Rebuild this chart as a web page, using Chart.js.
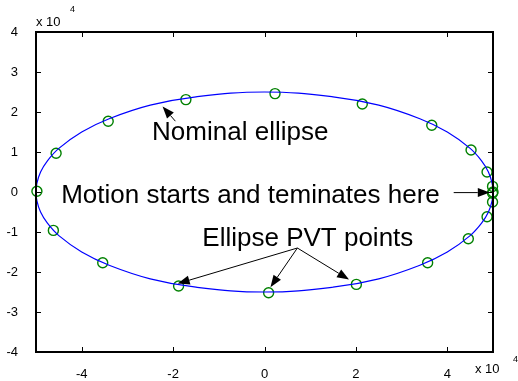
<!DOCTYPE html>
<html>
<head>
<meta charset="utf-8">
<script src="https://cdn.jsdelivr.net/npm/chart.js@4.4.1/dist/chart.umd.min.js"></script>
<style>
  html, body { margin: 0; padding: 0; background: #fff; }
  #wrap { width: 518px; height: 381px; position: relative; }
</style>
</head>
<body>
<div id="wrap"><canvas id="c" width="518" height="381"></canvas></div>
<script>
// ---- data (units of 1e4) ----
const ellipseX = [5, 4.98, 4.9, 4.75, 4.5, 4.0, 3.4, 2.5, 1.5, 0, -1.5, -2.5, -3.4, -4.0, -4.5, -4.75, -4.9, -4.98, -5,
                  -4.98, -4.9, -4.75, -4.5, -4.0, -3.4, -2.5, -1.5, 0, 1.5, 2.5, 3.4, 4.0, 4.5, 4.75, 4.9, 4.98, 5];
const ellipseY = [0, 0.22, 0.5, 0.78, 1.09, 1.5, 1.83, 2.17, 2.38, 2.5, 2.38, 2.17, 1.83, 1.5, 1.09, 0.78, 0.5, 0.22, 0,
                  -0.22, -0.5, -0.78, -1.09, -1.5, -1.83, -2.17, -2.38, -2.5, -2.38, -2.17, -1.83, -1.5, -1.09, -0.78, -0.5, -0.22, 0];
const pvtX = [5.0, 4.99, 4.87, 4.52, 3.66, 2.14, 0.23, -1.72, -3.42, -4.56, -4.98, -4.62, -3.54, -1.88, 0.09, 2.01, 3.57, 4.46, 4.87, 4.99, 4.99];
const pvtY = [0.0, 0.14, 0.50, 1.05, 1.67, 2.20, 2.46, 2.31, 1.77, 0.97, 0.02, -0.96, -1.77, -2.35, -2.52, -2.31, -1.77, -1.17, -0.62, -0.25, -0.03];
const xTickValues = [-4, -2, 0, 2, 4];
const yTickValues = [-4, -3, -2, -1, 0, 1, 2, 3, 4];
const SCALE = 10000;

// annotations (data units of 1e4)
const labelTexts = ["Nominal ellipse", "Motion starts and teminates here", "Ellipse PVT points"];
const labelX = [-2.46, -4.45, -1.36];
const labelY = [1.31, -0.27, -1.36];
// arrows: [tailX, tailY, tipX, tipY]
const arrowTailX = [-1.95, 4.14, 0.72, 0.72, 0.72];
const arrowTailY = [1.77, -0.015, -1.40, -1.40, -1.40];
const arrowTipX  = [-2.23, 4.93, -1.90, 0.13, 1.85];
const arrowTipY  = [2.14, -0.015, -2.29, -2.38, -2.19];

const FONT = "'Liberation Sans', Arial, Helvetica, sans-serif";

const ellipseData = ellipseX.map((x, i) => ({ x: x * SCALE, y: ellipseY[i] * SCALE }));
const pvtData = pvtX.map((x, i) => ({ x: x * SCALE, y: pvtY[i] * SCALE }));

const overlay = {
  id: 'overlay',
  afterDatasetsDraw(chart) {
    const ctx = chart.ctx;
    const xs = chart.scales.x, ys = chart.scales.y;
    const a = chart.chartArea;
    ctx.save();
    // box
    ctx.strokeStyle = '#000';
    ctx.lineWidth = 2;
    const L0 = Math.round(a.left), R0 = Math.round(a.right), T0 = Math.round(a.top), B0 = Math.round(a.bottom);
    ctx.strokeRect(L0, T0, R0 - L0, B0 - T0);
    // inward ticks
    ctx.lineWidth = 1;
    const tl = 5;
    ctx.beginPath();
    xTickValues.forEach(v => {
      const px = Math.round(xs.getPixelForValue(v * SCALE)) + 0.5;
      ctx.moveTo(px, B0); ctx.lineTo(px, B0 - tl);
      ctx.moveTo(px, T0); ctx.lineTo(px, T0 + tl);
    });
    yTickValues.forEach(v => {
      const py = Math.round(ys.getPixelForValue(v * SCALE)) + 0.5;
      ctx.moveTo(L0, py); ctx.lineTo(L0 + tl, py);
      ctx.moveTo(R0, py); ctx.lineTo(R0 - tl, py);
    });
    ctx.stroke();

    // exponent labels
    ctx.fillStyle = '#000';
    ctx.textBaseline = 'alphabetic';
    ctx.textAlign = 'left';
    ctx.font = '13px ' + FONT;
    ctx.fillText('x 10', a.left, a.top - 6);
    ctx.font = '9px ' + FONT;
    ctx.fillText('4', a.left + 34, a.top - 20);
    ctx.font = '13px ' + FONT;
    ctx.fillText('x 10', 475, 373);
    ctx.font = '9px ' + FONT;
    ctx.fillText('4', 513, 362);

    // annotation texts
    ctx.font = '26px ' + FONT;
    labelTexts.forEach((t, i) => {
      ctx.fillText(t, xs.getPixelForValue(labelX[i] * SCALE), ys.getPixelForValue(labelY[i] * SCALE));
    });

    // arrows
    ctx.strokeStyle = '#000';
    ctx.lineWidth = 1;
    for (let i = 0; i < arrowTailX.length; i++) {
      const x0 = xs.getPixelForValue(arrowTailX[i] * SCALE), y0 = ys.getPixelForValue(arrowTailY[i] * SCALE);
      const x1 = xs.getPixelForValue(arrowTipX[i] * SCALE), y1 = ys.getPixelForValue(arrowTipY[i] * SCALE);
      const ang = Math.atan2(y1 - y0, x1 - x0);
      const L = 12, W = 4.5;
      const bx = x1 - L * Math.cos(ang), by = y1 - L * Math.sin(ang);
      ctx.beginPath();
      ctx.moveTo(x0, y0); ctx.lineTo(bx, by);
      ctx.stroke();
      ctx.beginPath();
      ctx.moveTo(x1, y1);
      ctx.lineTo(bx + W * Math.sin(ang), by - W * Math.cos(ang));
      ctx.lineTo(bx - W * Math.sin(ang), by + W * Math.cos(ang));
      ctx.closePath();
      ctx.fill();
    }
    ctx.restore();
  }
};

new Chart(document.getElementById('c'), {
  type: 'scatter',
  data: {
    datasets: [
      {
        label: 'Nominal ellipse',
        data: ellipseData,
        showLine: true,
        borderColor: '#0000ff',
        borderWidth: 1.2,
        pointRadius: 0,
        tension: 0.4,
        fill: false
      },
      {
        label: 'Ellipse PVT points',
        data: pvtData,
        showLine: false,
        pointStyle: 'circle',
        pointRadius: 5,
        borderColor: '#008000',
        backgroundColor: 'rgba(0,0,0,0)',
        borderWidth: 1.4
      }
    ]
  },
  options: {
    responsive: false,
    animation: false,
    events: [],
    clip: false,
    layout: { padding: { left: 0, right: 25, top: 32, bottom: 0 } },
    plugins: { legend: { display: false }, tooltip: { enabled: false } },
    scales: {
      x: {
        type: 'linear',
        min: -5 * SCALE, max: 5 * SCALE,
        afterBuildTicks: s => { s.ticks = xTickValues.map(v => ({ value: v * SCALE })); },
        afterFit: s => { s.height = 29; },
        grid: { display: false },
        border: { display: false },
        ticks: {
          color: '#000', padding: 7,
          font: { family: FONT, size: 13 },
          callback: v => String(Math.round(v / SCALE)),
          maxRotation: 0, autoSkip: false
        }
      },
      y: {
        type: 'linear',
        min: -4 * SCALE, max: 4 * SCALE,
        afterBuildTicks: s => { s.ticks = yTickValues.map(v => ({ value: v * SCALE })); },
        afterFit: s => { s.width = 36; },
        grid: { display: false },
        border: { display: false },
        ticks: {
          color: '#000', padding: 10,
          font: { family: FONT, size: 13 },
          callback: v => String(Math.round(v / SCALE)),
          autoSkip: false
        }
      }
    }
  },
  plugins: [overlay]
});
</script>
</body>
</html>
